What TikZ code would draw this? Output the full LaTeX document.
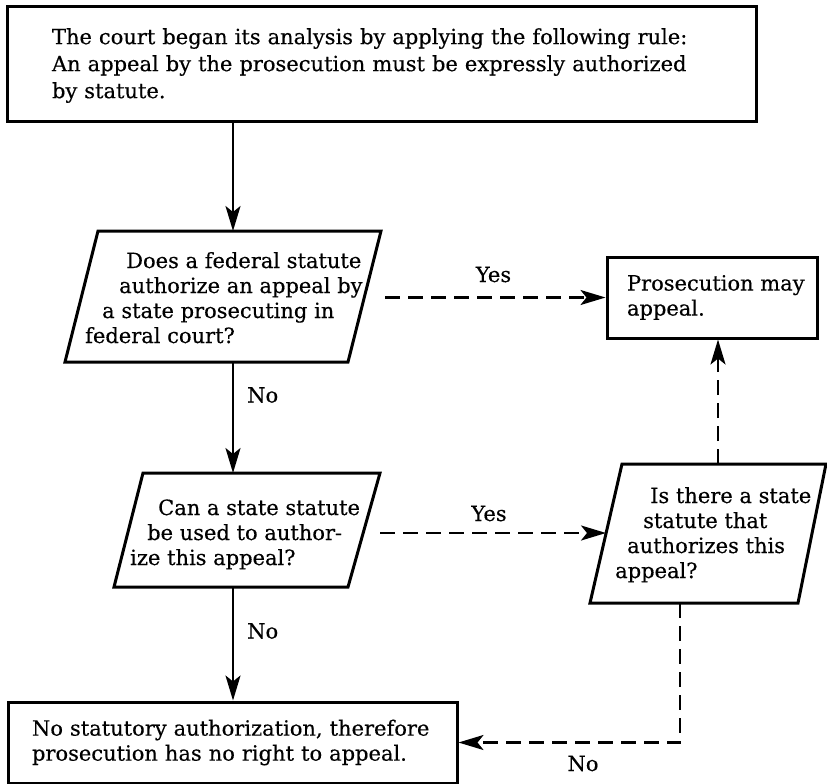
\documentclass[tikz,border=0pt]{standalone}
\usepackage{fontspec}
\setmainfont{DejaVu Serif}[FakeBold=0.4]
\usetikzlibrary{arrows.meta}
\newcommand\dfont{\fontsize{21}{25}\selectfont}
\newcommand\dfontw{\fontsize{21}{27}\selectfont}
\begin{document}
\begin{tikzpicture}[x=1pt,y=-1pt,
  boxshape/.style={draw, line width=3pt, rectangle, inner sep=0pt, align=left},
  shapeline/.style={line width=3pt, line join=miter},
  txt/.style={inner sep=0pt, anchor=base west, font=\dfont},
  lbl/.style={inner sep=0pt, font=\dfont},
  conn/.style={line width=2.4pt, -{Stealth[length=25pt,width=15pt,inset=6pt]}},
  dconn/.style={conn, dash pattern=on 15pt off 8pt}]
\useasboundingbox (0,0) rectangle (827,784);

% top rule box
\node[boxshape, font=\dfontw, minimum width=749pt, minimum height=114pt, text width=659pt] (rule) at (381.5,64)
  {\rule{0pt}{19pt}The court began its analysis by applying the following rule:\\
   An appeal by the prosecution must be expressly authorized\\
   by statute.};

% prosecution may appeal
\node[boxshape, font=\dfont, minimum width=210pt, minimum height=81pt] (pros) at (712,297.5)
  {\makebox[170pt][l]{Prosecution may}\\ appeal.};

% no authorization
\node[boxshape, font=\dfont, minimum width=449pt, minimum height=81pt, text width=401pt] (stop) at (232.5,742.5)
  {No statutory authorization, therefore\\ prosecution has no right to appeal.};

% parallelogram 1
\coordinate (p1tl) at (98,231);  \coordinate (p1tr) at (381,231);
\coordinate (p1br) at (348,362); \coordinate (p1bl) at (65,362);
\draw[shapeline] (p1tl) -- (p1tr) -- (p1br) -- (p1bl) -- cycle;
\node[txt] (q1) at (85,268) {\begin{tabular}[t]{@{}l@{}}\hspace*{41pt}Does a federal statute\\
  \hspace*{34pt}authorize an appeal by\\ \hspace*{17pt}a state prosecuting in\\ federal court?\end{tabular}};

% parallelogram 2
\coordinate (p2tl) at (143,473); \coordinate (p2tr) at (380,473);
\coordinate (p2br) at (348,587); \coordinate (p2bl) at (114,587);
\draw[shapeline] (p2tl) -- (p2tr) -- (p2br) -- (p2bl) -- cycle;
\node[txt] (q2) at (130,515) {\begin{tabular}[t]{@{}l@{}}\hspace*{28pt}Can a state statute\\
  \hspace*{17pt}be used to author-\\ ize this appeal?\end{tabular}};

% parallelogram 3
\coordinate (p3tl) at (622,464); \coordinate (p3tr) at (826,464);
\coordinate (p3br) at (798,603); \coordinate (p3bl) at (590,603);
\draw[shapeline] (p3tl) -- (p3tr) -- (p3br) -- (p3bl) -- cycle;
\node[txt] (q3) at (615,503) {\begin{tabular}[t]{@{}l@{}}\hspace*{35pt}Is there a state\\
  \hspace*{28pt}statute that\\ \hspace*{12pt}authorizes this\\ appeal?\end{tabular}};

% connector end points on the parallelograms
\coordinate (p1top) at (233,231); \coordinate (p1bot) at (233,362);
\coordinate (p1out) at (385,297.5);
\coordinate (p2top) at (233,473); \coordinate (p2bot) at (233,587);
\coordinate (p2out) at (380,533);
\coordinate (p3in) at (606,533);
\coordinate (p3top) at (718,464); \coordinate (p3bot) at (680,603);

% solid connectors
\draw[conn] (rule.south -| p1top) -- (p1top);
\draw[conn] (p1bot) -- (p2top);
\draw[conn] (p2bot) -- (stop.north -| p2bot);

% dashed connectors
\draw[dconn] (p1out) -- (pros.west);
\draw[dconn] (p2out) -- (p3in);
\draw[dconn] (p3top) -- (p3top |- pros.south);
\draw[dconn] (p3bot) |- (stop.east);

% labels
\node[lbl] (yes1) at (493.5,274.5) {Yes};
\node[lbl] (yes2) at (489,513.5) {Yes};
\node[lbl, anchor=west] (no1) at (247,395) {No};
\node[lbl, anchor=west] (no2) at (247,631) {No};
\node[lbl] (no3) at (583,763.5) {No};
\end{tikzpicture}
\end{document}
